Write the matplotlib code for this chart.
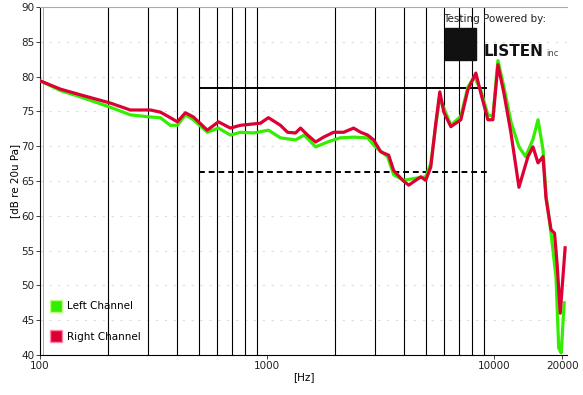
import numpy as np
import matplotlib
matplotlib.use("Agg")
import matplotlib.pyplot as plt
from matplotlib.lines import Line2D
from matplotlib.patches import Rectangle

# frequency response
right_hz = [100, 123, 150, 204, 250, 306, 339, 375, 403, 437, 474, 546, 611, 690,
            764, 872, 936, 1015, 1147, 1232, 1336, 1406, 1510, 1638, 1776, 1966,
            2177, 2409, 2587, 2778, 2953, 3171, 3439, 3618, 3965, 4214, 4525, 4762,
            5009, 5271, 5546, 5776, 6016, 6461, 7151, 7679, 8327, 8762, 9408, 9899,
            10416, 11072, 11889, 12894, 14130, 14869, 15645, 16458, 16968, 17853,
            18500, 19000, 19600, 20600]
right_db = [79.4, 78.2, 77.4, 76.2, 75.2, 75.2, 74.9, 74.1, 73.5, 74.8, 74.2, 72.3,
            73.5, 72.6, 73.0, 73.2, 73.3, 74.1, 73.0, 72.0, 71.9, 72.6, 71.6, 70.6,
            71.3, 72.0, 72.0, 72.6, 72.0, 71.6, 70.9, 69.2, 68.7, 66.5, 65.1, 64.4,
            65.1, 65.6, 65.1, 67.0, 73.3, 77.8, 74.9, 72.8, 73.8, 78.1, 80.5, 77.6,
            73.8, 73.8, 81.7, 77.6, 71.9, 64.1, 68.5, 69.9, 67.6, 68.5, 62.5, 58.0,
            57.5, 53.0, 46.0, 55.4]

left_hz = [100, 123, 150, 204, 250, 306, 339, 375, 403, 437, 474, 546, 611, 690,
           764, 872, 1015, 1147, 1336, 1460, 1638, 1850, 2100, 2409, 2778, 3000,
           3400, 3618, 4000, 4525, 5009, 5271, 5546, 5776, 6016, 6461, 7151, 7679,
           8200, 8762, 9408, 9899, 10416, 11072, 11889, 12894, 13800, 14869, 15645,
           16458, 16968, 17853, 18780, 19300, 19800, 20400]
left_db = [79.4, 78.0, 77.1, 75.6, 74.5, 74.2, 74.1, 73.0, 73.0, 74.5, 73.8, 72.0,
           72.6, 71.6, 72.0, 71.9, 72.3, 71.2, 70.9, 71.6, 69.9, 70.6, 71.2, 71.3,
           71.2, 69.9, 68.5, 65.9, 65.1, 65.4, 65.6, 67.5, 73.0, 77.0, 75.5, 73.0,
           74.3, 78.5, 80.0, 78.0, 74.5, 74.3, 82.3, 78.5, 73.5, 69.9, 68.5, 71.0,
           73.8, 69.5, 63.0, 57.5, 51.2, 41.0, 40.3, 47.5]

# reference levels (solid / dashed) and their span
ref_levels = [78.4, 66.3]
ref_span = [500, 9300]

grid_hz = [200, 300, 400, 500, 600, 700, 800, 900,
           2000, 3000, 4000, 5000, 6000, 7000, 8000, 9000]
xtick_hz = [100, 1000, 10000, 20000]
yticks = list(range(40, 91, 5))

fig = plt.figure(figsize=(5.83, 3.95), dpi=100)
ax = fig.add_axes([0.0686, 0.1013, 0.904, 0.881])
ax.set_xscale("log")
ax.set_xlim(100, 21000)
ax.set_ylim(40, 90)

for y in yticks:
    ax.axhline(y, color="#dcdcdc", lw=0.8, ls=(0, (2, 6)), zorder=0)
for f in grid_hz:
    ax.axvline(f, color="black", lw=0.8, zorder=1)
ax.axvline(103, color="#999999", lw=0.6, zorder=1)

ax.hlines(ref_levels[0], ref_span[0], ref_span[1], color="black", lw=1.4, zorder=2)
ax.hlines(ref_levels[1], ref_span[0], ref_span[1], color="black", lw=1.4,
          ls=(0, (3, 2)), zorder=2)

ax.plot(left_hz, left_db, color="#33ee00", lw=2.3, zorder=3)
ax.plot(right_hz, right_db, color="#dd0033", lw=2.3, zorder=4)

ax.set_xticks(xtick_hz)
ax.set_xticklabels([str(t) for t in xtick_hz])
ax.xaxis.set_minor_locator(matplotlib.ticker.NullLocator())
ax.set_yticks(yticks)
ax.tick_params(axis="both", labelsize=7.5, direction="out", length=3, width=0.6,
               colors="#222222", pad=1)
ax.set_xlabel("[Hz]", fontsize=7.5, labelpad=1)
ax.set_ylabel("[dB re 20u Pa]", fontsize=7.5, labelpad=1)
for s in ax.spines.values():
    s.set_linewidth(0.8)
ax.spines["top"].set_color("#aaaaaa")
ax.spines["right"].set_visible(False)

handles = [Line2D([], [], ls="none", marker="s", ms=9, mfc="#33ee00",
                  mec="#bbff88", mew=1.0),
           Line2D([], [], ls="none", marker="s", ms=9, mfc="#dd0033",
                  mec="#ff88aa", mew=1.0)]
ax.legend(handles, ["Left Channel", "Right Channel"], loc="lower left",
          bbox_to_anchor=(0.0, 0.01), frameon=False, fontsize=7.5,
          labelspacing=2.0, handletextpad=0.5, handlelength=1.2)

# logo
fig.text(0.76, 0.945, "Testing Powered by:", fontsize=7.5, color="#222222")
fig.patches.append(Rectangle((0.763, 0.848), 0.053, 0.08, transform=fig.transFigure,
                             color="#111111"))
fig.text(0.83, 0.858, "LISTEN", fontsize=11, fontweight="bold", color="#111111")
fig.text(0.937, 0.858, "inc", fontsize=6, color="#444444")

fig.savefig("out.png", dpi=100)
